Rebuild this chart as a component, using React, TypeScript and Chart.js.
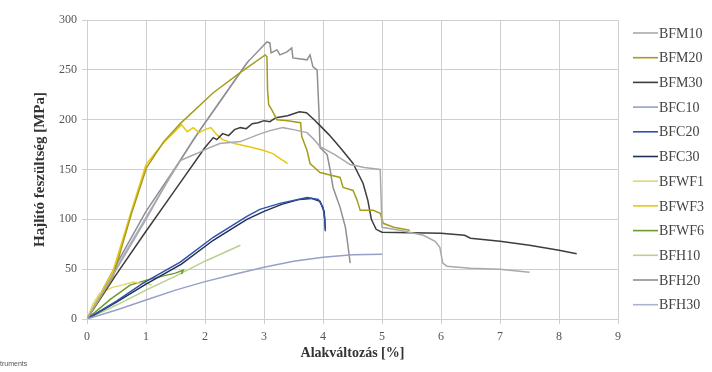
import React, { useEffect, useRef } from "react";
import { Chart, registerables } from "chart.js";

Chart.register(...registerables);

const seriesNames = ["BFM10", "BFM20", "BFM30", "BFC10", "BFC20", "BFC30", "BFWF1", "BFWF3", "BFWF6", "BFH10", "BFH20", "BFH30"];
const seriesColors = ["#a9a9a9", "#a69c1c", "#3d3d3d", "#95a1c6", "#2f52a8", "#1f2f5a", "#e0d870", "#e8c810", "#6e9a2c", "#b8d090", "#8f8f8f", "#a8b3cf"];

const xTicks = [0, 1, 2, 3, 4, 5, 6, 7, 8, 9];
const yTicks = [0, 50, 100, 150, 200, 250, 300];

// strain [%] / stress [MPa]
const bfm10Strain = [0, 0.5, 1, 1.4, 1.58, 1.7, 1.86, 2.0, 2.25, 2.6, 2.9, 3.1, 3.32, 3.5, 3.73, 3.85, 3.95, 4.2, 4.46, 4.7, 4.97, 5.0, 5.3, 5.7, 5.9, 5.98, 6.03, 6.1, 6.5, 7.0, 7.5];
const bfm10Stress = [0, 50, 100, 142, 159, 162, 166, 170, 176, 178, 185, 189, 192, 190, 187, 180, 173, 165, 155, 152, 150, 92, 89, 84, 78, 72, 56, 53, 51, 50, 47];

const bfm20Strain = [0, 0.44, 0.75, 1.01, 1.3, 1.58, 2.14, 2.59, 3.02, 3.05, 3.06, 3.08, 3.13, 3.22, 3.4, 3.62, 3.64, 3.73, 3.78, 3.95, 4.29, 4.34, 4.51, 4.58, 4.63, 4.85, 4.97, 5.02, 5.2, 5.47];
const bfm20Stress = [0, 42, 105, 152, 178, 196, 227, 247, 265, 263, 230, 215, 210, 200, 199, 197, 183, 169, 156, 147, 142, 132, 129, 119, 109, 109, 106, 96, 92, 89];

const bfm30Strain = [0, 0.5, 1, 1.5, 2.0, 2.14, 2.2, 2.3, 2.4, 2.5, 2.6, 2.7, 2.8, 2.9, 3.0, 3.1, 3.2, 3.4, 3.6, 3.72, 3.85, 3.95, 4.1, 4.29, 4.51, 4.68, 4.76, 4.82, 4.9, 5.0, 5.5, 6.0, 6.2, 6.4, 6.5, 7.0, 7.5, 8.0, 8.3];
const bfm30Stress = [0, 45, 88, 130, 172, 182, 180, 186, 184, 190, 192, 191, 196, 197, 199, 198, 202, 204, 208, 207, 200, 194, 185, 172, 156, 136, 119, 100, 90, 87, 86.5, 86, 85, 84, 81, 78, 74, 69, 65.5];

const bfc10Strain = [0, 0.5, 1, 1.5, 2, 2.5, 3, 3.5, 4, 4.5, 5.0];
const bfc10Stress = [0, 9, 19, 29, 37.5, 45, 52, 58, 62, 64.5, 65];

const bfc20Strain = [0, 0.5, 0.95, 1.58, 2.14, 2.71, 2.93, 3.27, 3.5, 3.73, 3.92, 4.0, 4.03, 4.04];
const bfc20Stress = [0, 18, 36, 57, 82, 103, 110, 116, 119, 122, 120, 112, 100, 88];

const bfc30Strain = [0, 0.5, 1.0, 1.6, 2.14, 2.71, 3.0, 3.3, 3.6, 3.8, 3.95, 4.02, 4.04];
const bfc30Stress = [0, 17, 35, 55, 79, 100, 108, 115, 120, 121, 118, 108, 90];

const bfwf1Strain = [0, 0.1, 0.22, 0.44, 0.6, 0.78, 0.9, 1.01, 1.1];
const bfwf1Stress = [0, 15, 26, 32, 34, 37, 36, 36, 34];

const bfwf3Strain = [0, 0.44, 0.75, 1.0, 1.3, 1.52, 1.6, 1.7, 1.8, 1.9, 2.0, 2.1, 2.2, 2.3, 2.5, 2.8, 3.0, 3.15, 3.3, 3.4];
const bfwf3Stress = [0, 48, 108, 155, 177, 190, 195, 188, 192, 187, 190, 192, 185, 180, 176, 172, 169, 166, 160, 156];

const bfwf6Strain = [0, 0.4, 0.73, 1.01, 1.35, 1.5, 1.63, 1.6];
const bfwf6Stress = [0, 20, 34, 39, 44, 46, 49, 45];

const bfh10Strain = [0, 0.5, 1, 1.5, 2, 2.6];
const bfh10Stress = [0, 14, 29, 43, 58, 74];

const bfh20Strain = [0, 0.5, 1, 1.5, 1.92, 2.31, 2.71, 3.0, 3.05, 3.1, 3.12, 3.22, 3.27, 3.39, 3.47, 3.49, 3.73, 3.78, 3.83, 3.9, 3.93, 3.95, 4.07, 4.12, 4.17, 4.29, 4.38, 4.42, 4.46];
const bfh20Stress = [0, 55, 108, 152, 190, 223, 257, 275, 278, 277, 267, 270, 265, 268, 272, 262, 260, 265, 253, 250, 210, 172, 165, 150, 132, 112, 92, 75, 56];

const bfh30Strain = [0, 0.6, 1.2, 1.8, 2.3, 2.75];
const bfh30Stress = [0, 62, 122, 180, 222, 260];

const strainSets = [bfm10Strain, bfm20Strain, bfm30Strain, bfc10Strain, bfc20Strain, bfc30Strain, bfwf1Strain, bfwf3Strain, bfwf6Strain, bfh10Strain, bfh20Strain, bfh30Strain];
const stressSets = [bfm10Stress, bfm20Stress, bfm30Stress, bfc10Stress, bfc20Stress, bfc30Stress, bfwf1Stress, bfwf3Stress, bfwf6Stress, bfh10Stress, bfh20Stress, bfh30Stress];

const FONT = "'Liberation Serif', 'Times New Roman', serif";

const legendPlugin = {
  id: "sideLegend",
  afterDraw(chart: any) {
    const ctx = chart.ctx;
    ctx.save();
    ctx.font = `14px ${FONT}`;
    ctx.textBaseline = "middle";
    ctx.textAlign = "left";
    chart.data.datasets.forEach((ds: any, i: number) => {
      const y = 33 + i * 24.7;
      ctx.strokeStyle = ds.borderColor;
      ctx.lineWidth = 1.6;
      ctx.beginPath();
      ctx.moveTo(633, y);
      ctx.lineTo(658, y);
      ctx.stroke();
      ctx.fillStyle = "#444";
      ctx.fillText(ds.label, 659, y + 1);
    });
    ctx.font = "7px 'Liberation Sans', sans-serif";
    ctx.fillStyle = "#555";
    ctx.fillText("truments", 0, 364);
    ctx.restore();
  },
};

export default function App() {
  const ref = useRef<HTMLCanvasElement | null>(null);
  useEffect(() => {
    if (!ref.current) return;
    const datasets = seriesNames.map((name, i) => ({
      label: name,
      data: strainSets[i].map((x, j) => ({ x, y: stressSets[i][j] })),
      borderColor: seriesColors[i],
      backgroundColor: seriesColors[i],
      borderWidth: 1.5,
      showLine: true,
      pointRadius: 0,
      tension: 0,
      fill: false,
    }));
    const gridColor = "#cfcfcf";
    const chart = new Chart(ref.current, {
      type: "scatter",
      data: { datasets },
      options: {
        animation: false,
        responsive: false,
        devicePixelRatio: 1,
        layout: { padding: { top: 20, right: 94, left: 0, bottom: 0 } },
        plugins: { legend: { display: false }, tooltip: { enabled: false } },
        scales: {
          x: {
            type: "linear",
            min: 0,
            max: 9,
            afterBuildTicks: (s: any) => { s.ticks = xTicks.map((v) => ({ value: v })); },
            afterFit: (s: any) => { s.height = 53; },
            grid: { color: gridColor, tickLength: 5 },
            border: { color: gridColor },
            ticks: { color: "#555", font: { family: FONT, size: 12 }, padding: 6, maxRotation: 0 },
            title: { display: true, text: "Alakváltozás [%]", color: "#333", font: { family: FONT, size: 14, weight: "bold" }, padding: { top: 0, bottom: 10 } },
          },
          y: {
            type: "linear",
            min: 0,
            max: 300,
            afterBuildTicks: (s: any) => { s.ticks = yTicks.map((v) => ({ value: v })); },
            afterFit: (s: any) => { s.width = 87; },
            grid: { color: gridColor, tickLength: 5 },
            border: { color: gridColor },
            ticks: { color: "#555", font: { family: FONT, size: 12 }, padding: 5 },
            title: { display: true, text: "Hajlító feszültség [MPa]", color: "#333", font: { family: FONT, size: 15, weight: "bold" }, padding: { top: 31, bottom: 0 } },
          },
        },
      },
      plugins: [legendPlugin],
    });
    return () => chart.destroy();
  }, []);
  return (
    <div style={{ position: "absolute", left: 0, top: 0, width: 712, height: 372, background: "#fff" }}>
      <canvas ref={ref} width={712} height={372} style={{ display: "block" }} />
    </div>
  );
}
